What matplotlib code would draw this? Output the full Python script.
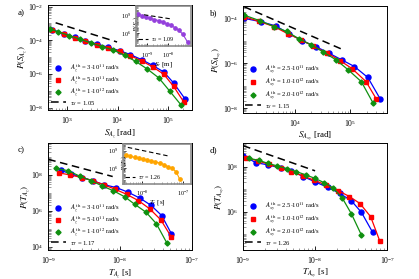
import matplotlib
matplotlib.use('Agg')
import matplotlib.pyplot as plt
from matplotlib.lines import Line2D
from matplotlib.ticker import LogLocator, NullFormatter

plt.rcParams['font.family'] = 'Liberation Serif'
plt.rcParams['mathtext.fontset'] = 'stix'

# ---- panel a: S_Az ----
a_blue_x = [5.0e2, 8.5e2, 1.4e3, 2.3e3, 3.9e3, 6.6e3, 1.1e4, 1.8e4, 3.0e4, 5.0e4, 8.3e4, 1.3e5, 2.2e5]
a_blue_y = [4.3e-4, 2.5e-4, 1.5e-4, 9.5e-5, 6.0e-5, 3.8e-5, 2.4e-5, 1.4e-5, 7.1e-6, 3.2e-6, 1.3e-6, 2.9e-7, 3.2e-8]
a_red_x = [5.0e2, 8.5e2, 1.4e3, 2.3e3, 3.9e3, 6.6e3, 1.1e4, 1.8e4, 3.0e4, 5.0e4, 8.3e4, 1.3e5, 2.1e5]
a_red_y = [4.0e-4, 2.3e-4, 1.4e-4, 8.9e-5, 5.6e-5, 3.5e-5, 2.2e-5, 1.2e-5, 6.0e-6, 2.6e-6, 9.5e-7, 1.8e-7, 2.0e-8]
a_green_x = [4.6e2, 6.6e2, 1.1e3, 1.8e3, 3.0e3, 5.0e3, 8.3e3, 1.4e4, 2.3e4, 3.9e4, 6.6e4, 1.1e5, 1.8e5]
a_green_y = [4.8e-4, 3.2e-4, 1.9e-4, 1.15e-4, 6.9e-5, 4.2e-5, 2.6e-5, 1.26e-5, 5.5e-6, 1.95e-6, 5.8e-7, 9.1e-8, 1.5e-8]
a_dash_x = [5.9e2, 9.8e3]
a_dash_y = [1.1e-3, 7.9e-5]
a_labels = [r'$A_z^{\,\rm th}$ = 3$\cdot$10$^{11}$ rad/s',
            r'$A_z^{\,\rm th}$ = 5$\cdot$10$^{11}$ rad/s',
            r'$A_z^{\,\rm th}$ = 1$\cdot$10$^{12}$ rad/s',
            r'$\tau_S$ = 1.05']

# inset a: S_r
ia_x = [3.7e-10, 5.9e-10, 8.9e-10, 1.4e-9, 2.2e-9, 3.5e-9, 5.5e-9, 8.3e-9, 1.3e-8, 2.0e-8, 3.1e-8, 4.9e-8, 8.3e-8]
ia_y = [1.7e9, 9.3e8, 5.0e8, 3.4e8, 2.1e8, 1.4e8, 7.6e7, 4.1e7, 2.2e7, 9.1e6, 3.3e6, 6.5e5, 2.8e4]
ia_dash_x = [7.1e-10, 1.4e-8]
ia_dash_y = [1.35e9, 2.6e8]

# ---- panel b: S_Axy ----
b_blue_x = [1.2e3, 2.4e3, 4.5e3, 7.8e3, 1.35e4, 2.4e4, 4.2e4, 7.1e4, 1.2e5, 2.1e5, 3.5e5]
b_blue_y = [1.0e-4, 7.1e-5, 4.6e-5, 2.1e-5, 1.0e-5, 5.5e-6, 2.75e-6, 1.4e-6, 7.1e-7, 2.3e-7, 2.6e-8]
b_red_x = [1.2e3, 2.2e3, 4.2e3, 7.6e3, 1.3e4, 2.1e4, 3.9e4, 6.6e4, 1.1e5, 1.95e5, 3.0e5]
b_red_y = [1.2e-4, 7.4e-5, 4.3e-5, 2.0e-5, 1.1e-5, 5.9e-6, 2.75e-6, 1.3e-6, 5.6e-7, 1.5e-7, 2.5e-8]
b_green_x = [1.2e3, 2.3e3, 4.2e3, 7.1e3, 1.2e4, 2.0e4, 3.3e4, 5.6e4, 9.3e4, 1.6e5, 2.6e5]
b_green_y = [1.4e-4, 7.9e-5, 4.3e-5, 2.6e-5, 1.2e-5, 6.5e-6, 3.1e-6, 1.4e-6, 5.0e-7, 1.5e-7, 1.7e-8]
b_dash_x = [1.2e3, 7.1e4]
b_dash_y = [3.3e-4, 4.2e-6]
b_labels = [r'$A_{xy}^{\,\rm th}$ = 2.5$\cdot$10$^{11}$ rad/s',
            r'$A_{xy}^{\,\rm th}$ = 1.0$\cdot$10$^{12}$ rad/s',
            r'$A_{xy}^{\,\rm th}$ = 2.0$\cdot$10$^{12}$ rad/s',
            r'$\tau_S$ = 1.15']

# ---- panel c: T_Az ----
c_blue_x = [1.5e-9, 2.1e-9, 3.0e-9, 4.2e-9, 5.9e-9, 8.9e-9, 1.3e-8, 1.9e-8, 2.7e-8, 3.8e-8, 5.2e-8]
c_blue_y = [1.8e8, 1.1e8, 7.1e7, 4.7e7, 2.9e7, 1.95e7, 1.07e7, 5.0e6, 2.0e6, 5.4e5, 5.1e4]
c_red_x = [1.4e-9, 2.0e-9, 2.95e-9, 4.2e-9, 6.0e-9, 8.5e-9, 1.23e-8, 1.8e-8, 2.6e-8, 3.7e-8, 5.2e-8]
c_red_y = [1.3e8, 1.0e8, 7.1e7, 4.7e7, 2.75e7, 1.6e7, 8.3e6, 3.7e6, 1.26e6, 3.1e5, 3.3e4]
c_green_x = [1.3e-9, 1.9e-9, 2.75e-9, 4.0e-9, 5.6e-9, 8.1e-9, 1.17e-8, 1.6e-8, 2.3e-8, 3.2e-8, 4.5e-8]
c_green_y = [2.3e8, 1.7e8, 8.5e7, 4.7e7, 2.45e7, 1.3e7, 5.9e6, 2.3e6, 8.3e5, 1.9e5, 1.55e4]
c_dash_x = [1.0e-9, 7.9e-9]
c_dash_y = [7.4e8, 8.1e7]
c_labels = [r'$A_z^{\,\rm th}$ = 3$\cdot$10$^{11}$ rad/s',
            r'$A_z^{\,\rm th}$ = 5$\cdot$10$^{11}$ rad/s',
            r'$A_z^{\,\rm th}$ = 1$\cdot$10$^{12}$ rad/s',
            r'$\tau_T$ = 1.17']

# inset c: T_r
ic_x = [4.0e-9, 5.0e-9, 6.5e-9, 8.1e-9, 1.05e-8, 1.3e-8, 1.66e-8, 2.1e-8, 2.7e-8, 3.5e-8, 4.4e-8, 5.5e-8, 6.9e-8, 8.3e-8]
ic_y = [1.5e8, 1.05e8, 7.1e7, 4.9e7, 3.3e7, 2.6e7, 1.8e7, 1.2e7, 7.4e6, 4.0e6, 1.6e6, 9.8e5, 2.2e5, 1.55e4]
ic_dash_x = [4.4e-9, 4.4e-8]
ic_dash_y = [3.5e9, 1.2e8]

# ---- panel d: T_Axy ----
d_blue_x = [1.0e-9, 1.5e-9, 2.2e-9, 3.4e-9, 4.7e-9, 6.9e-9, 1.0e-8, 1.5e-8, 2.2e-8, 3.2e-8, 4.4e-8, 6.3e-8]
d_blue_y = [3.1e8, 1.5e8, 1.2e8, 8.5e7, 6.5e7, 3.6e7, 2.1e7, 1.2e7, 6.5e6, 3.0e6, 9.3e5, 1.2e5]
d_red_x = [1.1e-9, 1.6e-9, 2.3e-9, 3.4e-9, 4.7e-9, 6.8e-9, 9.8e-9, 1.4e-8, 2.1e-8, 3.0e-8, 4.2e-8, 5.9e-8, 7.9e-8]
d_red_y = [2.5e8, 1.8e8, 1.26e8, 8.5e7, 5.6e7, 3.9e7, 2.45e7, 1.55e7, 8.5e6, 4.7e6, 2.3e6, 6.0e5, 5.0e4]
d_green_x = [1.23e-9, 1.66e-9, 2.2e-9, 3.0e-9, 4.1e-9, 5.5e-9, 7.4e-9, 1.0e-8, 1.35e-8, 1.8e-8, 2.4e-8, 3.2e-8, 4.4e-8]
d_green_y = [2.3e8, 1.9e8, 1.4e8, 1.07e8, 8.1e7, 6.0e7, 4.3e7, 3.0e7, 1.9e7, 1.1e7, 3.9e6, 7.9e5, 9.1e4]
d_dash_x = [1.0e-9, 1.0e-8]
d_dash_y = [8.5e8, 6.5e7]
d_labels = [r'$A_{xy}^{\,\rm th}$ = 2.5$\cdot$10$^{11}$ rad/s',
            r'$A_{xy}^{\,\rm th}$ = 1.0$\cdot$10$^{12}$ rad/s',
            r'$A_{xy}^{\,\rm th}$ = 2.0$\cdot$10$^{12}$ rad/s',
            r'$\tau_T$ = 1.26']

BLUE, RED, GREEN = '#0000ff', '#ff0000', '#109010'


def style_log_axis(ax, fs):
    ax.set_xscale('log')
    ax.set_yscale('log')
    ax.tick_params(which='both', direction='in', top=False, right=False, labelsize=fs)
    ax.tick_params(which='major', length=3, width=0.6)
    ax.tick_params(which='minor', length=1.8, width=0.5, color='0.45')
    ax.xaxis.set_minor_locator(LogLocator(base=10, subs=range(1, 10), numticks=50))
    ax.yaxis.set_minor_locator(LogLocator(base=10, subs=range(1, 10), numticks=50))
    ax.xaxis.set_minor_formatter(NullFormatter())
    ax.yaxis.set_minor_formatter(NullFormatter())
    for s in ax.spines.values():
        s.set_linewidth(0.7)


def draw_panel(ax, series, dash, labels, xlim, ylim, xticks, yticks, xlabel, ylabel):
    style_log_axis(ax, 5.5)
    markers = [('o', 3.6), ('s', 3.2), ('D', 2.6)]
    for (x, y), c, (m, ms) in zip(series, [BLUE, RED, GREEN], markers):
        ax.plot(x, y, '-', color=c, lw=0.9, marker=m, ms=ms, mec=c)
    ax.plot(dash[0], dash[1], color='black', lw=1.1, ls=(0, (5, 3)))
    ax.set_xlim(xlim)
    ax.set_ylim(ylim)
    ax.set_xticks(xticks)
    ax.set_yticks(yticks)
    ax.set_xlabel(xlabel, fontsize=6.5, labelpad=1)
    ax.set_ylabel(ylabel, fontsize=6.5, labelpad=-1)
    handles = [Line2D([], [], ls='none', marker=m, ms=ms, color=c)
               for c, (m, ms) in zip([BLUE, RED, GREEN], markers)]
    handles.append(Line2D([], [], color='black', lw=1.1, ls=(0, (5, 3))))
    ax.legend(handles, labels, loc='lower left', frameon=False, fontsize=4.8,
              handlelength=2.3, handletextpad=0.6, labelspacing=0.0,
              borderaxespad=0.15, borderpad=0.2)


def draw_inset(ax, x, y, color, dash, tau, xlim, ylim, xticks, xlabel, ylabel):
    style_log_axis(ax, 4.3)
    ax.tick_params(which='major', length=2)
    ax.tick_params(which='minor', length=1.2)
    ax.plot(x, y, '-', color=color, lw=0.8, marker='o', ms=2.4)
    ax.plot(dash[0], dash[1], color='black', lw=0.8, ls=(0, (4, 2.5)))
    ax.set_xlim(xlim)
    ax.set_ylim(ylim)
    ax.set_xticks(xticks)
    ax.set_yticks([1e6, 1e9])
    ax.set_xlabel(xlabel, fontsize=5, labelpad=0)
    ax.set_ylabel(ylabel, fontsize=5)
    ax.yaxis.set_label_coords(0.09, 0.55)
    for s in ax.spines.values():
        s.set_color('0.55')
        s.set_linewidth(1.2)
    ax.legend([Line2D([], [], color='black', lw=0.8, ls=(0, (4, 2.5)))], [tau],
              loc='lower left', frameon=False, fontsize=4.3, handlelength=1.8,
              handletextpad=0.5, borderaxespad=0.1, borderpad=0.2)


fig = plt.figure(figsize=(4.19, 2.79), dpi=100)

ax_a = fig.add_axes([0.115, 0.606, 0.343, 0.376])
ax_b = fig.add_axes([0.580, 0.595, 0.344, 0.383])
ax_c = fig.add_axes([0.115, 0.104, 0.343, 0.383])
ax_d = fig.add_axes([0.580, 0.104, 0.344, 0.383])

draw_panel(ax_a, [(a_blue_x, a_blue_y), (a_red_x, a_red_y), (a_green_x, a_green_y)],
           (a_dash_x, a_dash_y), a_labels, (4.2e2, 3.0e5), (7.2e-9, 1.25e-2),
           [1e3, 1e4, 1e5], [1e-8, 1e-6, 1e-4, 1e-2],
           r'$S_{A_z}$ [rad]', r'$P(S_{A_z})$')
draw_panel(ax_b, [(b_blue_x, b_blue_y), (b_red_x, b_red_y), (b_green_x, b_green_y)],
           (b_dash_x, b_dash_y), b_labels, (1.15e3, 4.7e5), (6.0e-9, 3.5e-4),
           [1e4, 1e5], [1e-8, 1e-6, 1e-4],
           r'$S_{A_{xy}}$ [rad]', r'$P(S_{A_{xy}})$')
draw_panel(ax_c, [(c_blue_x, c_blue_y), (c_red_x, c_red_y), (c_green_x, c_green_y)],
           (c_dash_x, c_dash_y), c_labels, (1e-9, 1e-7), (6.5e3, 5.9e9),
           [1e-9, 1e-8, 1e-7], [1e4, 1e6, 1e8],
           r'$T_{A_z}$ [s]', r'$P(T_{A_z})$')
draw_panel(ax_d, [(d_blue_x, d_blue_y), (d_red_x, d_red_y), (d_green_x, d_green_y)],
           (d_dash_x, d_dash_y), d_labels, (1e-9, 1e-7), (2.0e4, 1.1e9),
           [1e-9, 1e-8, 1e-7], [1e6, 1e8],
           r'$T_{A_{xy}}$ [s]', r'$P(T_{A_{xy}})$')

ax_ia = fig.add_axes([0.324, 0.835, 0.132, 0.143])
draw_inset(ax_ia, ia_x, ia_y, '#9440dc', (ia_dash_x, ia_dash_y), r'$\tau_S$ = 1.09',
           (2.9e-10, 1.2e-7), (6.3e3, 4.0e10), [1e-9, 1e-8],
           r'$S_r$ [m]', r'$P(S_r)$')

ax_ic = fig.add_axes([0.293, 0.340, 0.163, 0.143])
draw_inset(ax_ic, ic_x, ic_y, '#ffa500', (ic_dash_x, ic_dash_y), r'$\tau_T$ = 1.26',
           (3.3e-9, 1.6e-7), (1.9e3, 1.2e10), [1e-8, 1e-7],
           r'$T_r$ [s]', r'$P(T_r)$')

for lab, x, y in [('a)', 0.043, 0.945), ('b)', 0.500, 0.945),
                  ('c)', 0.043, 0.455), ('d)', 0.500, 0.455)]:
    fig.text(x, y, lab, fontsize=6.5)

fig.savefig('out.png', dpi=100)
